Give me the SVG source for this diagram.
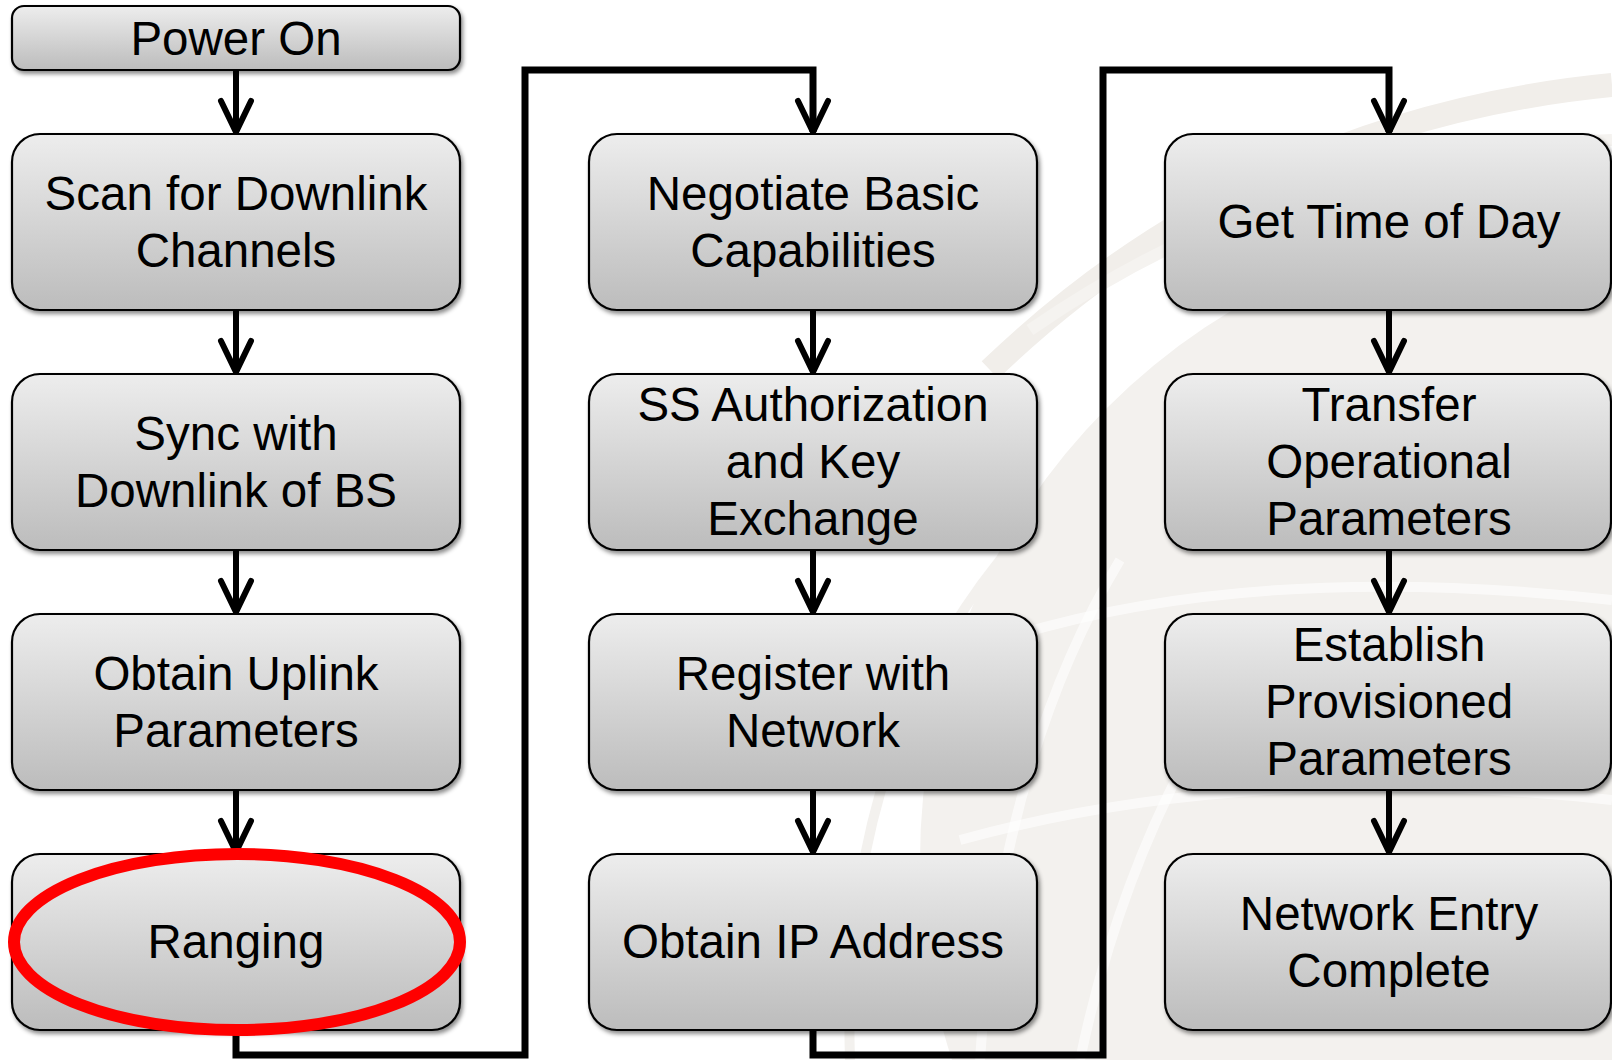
<svg xmlns="http://www.w3.org/2000/svg" width="1612" height="1060" viewBox="0 0 1612 1060">
  <defs>
    <linearGradient id="boxFill" x1="0" y1="0" x2="0" y2="1">
      <stop offset="0" stop-color="#ededed"/>
      <stop offset="1" stop-color="#bcbcbc"/>
    </linearGradient>
    <filter id="shadow" x="-5%" y="-10%" width="115%" height="130%">
      <feDropShadow dx="2" dy="3" stdDeviation="2.2" flood-color="#000" flood-opacity="0.45"/>
    </filter>
    <style>
      .box { fill: url(#boxFill); stroke: #000; stroke-width: 2.2; filter: url(#shadow); }
      .label { font-family: "Liberation Sans", Arial, sans-serif; font-size: 47.5px; fill: #000; text-anchor: middle; }
      .flow { fill: none; stroke: #000; stroke-width: 6; stroke-linejoin: miter; }
      .head { fill: none; stroke: #000; stroke-width: 6; stroke-linecap: round; stroke-linejoin: miter; }
      .loop { fill: none; stroke: #000; stroke-width: 7; stroke-linejoin: miter; }
      .mark { fill: none; stroke: #ff0000; stroke-width: 12; }
      .globe-line { fill: none; stroke: #ffffff; stroke-width: 10; opacity: 0.6; }
    </style>
  </defs>

  <rect width="1612" height="1060" fill="#ffffff"/>

  <!-- faint globe emblem in the background -->
  <g id="backdrop">
    <circle cx="1560" cy="860" r="640" fill="#f3f1ee"/>
    <path d="M 990 370 Q 1250 120 1612 85" fill="none" stroke="#f1eeea" stroke-width="24"/>
    <path d="M 1030 330 Q 1290 150 1612 140" fill="none" stroke="#f5f3f0" stroke-width="12"/>
    <path class="globe-line" d="M 980 1060 Q 1000 760 1120 560"/>
    <path class="globe-line" d="M 1080 1060 Q 1130 820 1260 640"/>
    <path class="globe-line" d="M 1000 640 Q 1250 560 1612 600"/>
    <path class="globe-line" d="M 960 840 Q 1250 760 1612 800"/>
    <path d="M 850 1060 Q 840 760 1000 560" fill="none" stroke="#f3f1ee" stroke-width="10"/>
  </g>

  <!-- connectors -->
  <g id="connectors">
    <!-- column 1 -->
    <path class="flow" d="M 236 70 V 132"/>
    <path class="head" d="M 221 101 L 236 132 L 251 101"/>
    <path class="flow" d="M 236 310 V 372"/>
    <path class="head" d="M 221 341 L 236 372 L 251 341"/>
    <path class="flow" d="M 236 550 V 612"/>
    <path class="head" d="M 221 581 L 236 612 L 251 581"/>
    <path class="flow" d="M 236 790 V 852"/>
    <path class="head" d="M 221 821 L 236 852 L 251 821"/>
    <!-- column 1 to column 2 -->
    <path class="loop" d="M 236 1030 V 1055 H 525 V 70 H 813 V 132"/>
    <path class="head" d="M 798 101 L 813 132 L 828 101"/>
    <!-- column 2 -->
    <path class="flow" d="M 813 310 V 372"/>
    <path class="head" d="M 798 341 L 813 372 L 828 341"/>
    <path class="flow" d="M 813 550 V 612"/>
    <path class="head" d="M 798 581 L 813 612 L 828 581"/>
    <path class="flow" d="M 813 790 V 852"/>
    <path class="head" d="M 798 821 L 813 852 L 828 821"/>
    <!-- column 2 to column 3 -->
    <path class="loop" d="M 813 1030 V 1055 H 1103 V 70 H 1389 V 132"/>
    <path class="head" d="M 1374 101 L 1389 132 L 1404 101"/>
    <!-- column 3 -->
    <path class="flow" d="M 1389 310 V 372"/>
    <path class="head" d="M 1374 341 L 1389 372 L 1404 341"/>
    <path class="flow" d="M 1389 550 V 612"/>
    <path class="head" d="M 1374 581 L 1389 612 L 1404 581"/>
    <path class="flow" d="M 1389 790 V 852"/>
    <path class="head" d="M 1374 821 L 1389 852 L 1404 821"/>
  </g>

  <!-- column 1 nodes -->
  <g id="power-on">
    <rect class="box" x="12" y="6" width="448" height="64" rx="12"/>
    <text class="label" x="236" y="55">Power On</text>
  </g>
  <g id="scan-downlink">
    <rect class="box" x="12" y="134" width="448" height="176" rx="28"/>
    <text class="label" x="236" y="210">Scan for Downlink</text>
    <text class="label" x="236" y="267">Channels</text>
  </g>
  <g id="sync-downlink">
    <rect class="box" x="12" y="374" width="448" height="176" rx="28"/>
    <text class="label" x="236" y="450">Sync with</text>
    <text class="label" x="236" y="507">Downlink of BS</text>
  </g>
  <g id="uplink-params">
    <rect class="box" x="12" y="614" width="448" height="176" rx="28"/>
    <text class="label" x="236" y="690">Obtain Uplink</text>
    <text class="label" x="236" y="747">Parameters</text>
  </g>
  <g id="ranging">
    <rect class="box" x="12" y="854" width="448" height="176" rx="28"/>
    <text class="label" x="236" y="958">Ranging</text>
  </g>

  <!-- column 2 nodes -->
  <g id="basic-capabilities">
    <rect class="box" x="589" y="134" width="448" height="176" rx="28"/>
    <text class="label" x="813" y="210">Negotiate Basic</text>
    <text class="label" x="813" y="267">Capabilities</text>
  </g>
  <g id="authorization">
    <rect class="box" x="589" y="374" width="448" height="176" rx="28"/>
    <text class="label" x="813" y="421">SS Authorization</text>
    <text class="label" x="813" y="478">and Key</text>
    <text class="label" x="813" y="535">Exchange</text>
  </g>
  <g id="register">
    <rect class="box" x="589" y="614" width="448" height="176" rx="28"/>
    <text class="label" x="813" y="690">Register with</text>
    <text class="label" x="813" y="747">Network</text>
  </g>
  <g id="ip-address">
    <rect class="box" x="589" y="854" width="448" height="176" rx="28"/>
    <text class="label" x="813" y="958">Obtain IP Address</text>
  </g>

  <!-- column 3 nodes -->
  <g id="time-of-day">
    <rect class="box" x="1165" y="134" width="446" height="176" rx="28"/>
    <text class="label" x="1389" y="238">Get Time of Day</text>
  </g>
  <g id="operational-params">
    <rect class="box" x="1165" y="374" width="446" height="176" rx="28"/>
    <text class="label" x="1389" y="421">Transfer</text>
    <text class="label" x="1389" y="478">Operational</text>
    <text class="label" x="1389" y="535">Parameters</text>
  </g>
  <g id="provisioned-params">
    <rect class="box" x="1165" y="614" width="446" height="176" rx="28"/>
    <text class="label" x="1389" y="661">Establish</text>
    <text class="label" x="1389" y="718">Provisioned</text>
    <text class="label" x="1389" y="775">Parameters</text>
  </g>
  <g id="entry-complete">
    <rect class="box" x="1165" y="854" width="446" height="176" rx="28"/>
    <text class="label" x="1389" y="930">Network Entry</text>
    <text class="label" x="1389" y="987">Complete</text>
  </g>

  <!-- highlight on the ranging step -->
  <ellipse id="ranging-highlight" class="mark" cx="237" cy="942" rx="223" ry="88"/>
</svg>
